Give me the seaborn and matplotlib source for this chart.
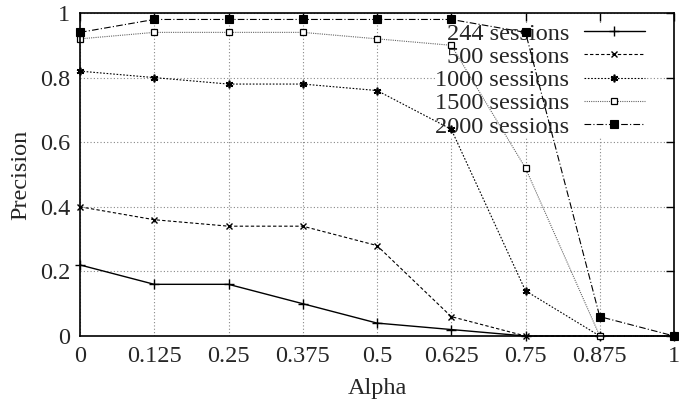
import matplotlib
matplotlib.use("Agg")
import matplotlib.pyplot as plt
import seaborn as sns
import pandas as pd

alpha = [0, 0.125, 0.25, 0.375, 0.5, 0.625, 0.75, 0.875, 1]
s244 = [0.22, 0.16, 0.16, 0.10, 0.04, 0.02, 0.0, 0.0, 0.0]
s500 = [0.40, 0.36, 0.34, 0.34, 0.28, 0.06, 0.0, 0.0, 0.0]
s1000 = [0.82, 0.80, 0.78, 0.78, 0.76, 0.64, 0.14, 0.0, 0.0]
s1500 = [0.92, 0.94, 0.94, 0.94, 0.92, 0.90, 0.52, 0.0, 0.0]
s2000 = [0.94, 0.98, 0.98, 0.98, 0.98, 0.98, 0.94, 0.06, 0.0]
labels = ["244 sessions", "500 sessions", "1000 sessions", "1500 sessions", "2000 sessions"]
series = [s244, s500, s1000, s1500, s2000]
xticks = ["0", "0.125", "0.25", "0.375", "0.5", "0.625", "0.75", "0.875", "1"]
yticks = ["0", "0.2", "0.4", "0.6", "0.8", "1"]

sns.set_style("white")
plt.rcParams['font.family'] = ['Liberation Serif', 'DejaVu Serif']

FS = 17.5
fig = plt.figure(figsize=(6.79, 4.0), dpi=100)
ax = fig.add_axes([80/679, 64/400, 594/679, 323/400])

styles = [
    dict(linestyle='-', marker='+', color='black', mfc='black', mec='black', ms=7, mew=1.0, lw=1.0),
    dict(linestyle=(0, (3, 2)), marker='x', color='black', mfc='black', mec='black', ms=4, mew=1.0, lw=0.8),
    dict(linestyle=(0, (1.5, 1.5)), marker=(6, 2, 0), color='black', mfc='black', mec='black', ms=5.5, mew=1.2, lw=0.8),
    dict(linestyle=(0, (1, 1)), marker='s', color='#666666', mfc='white', mec='black', ms=4.5, mew=0.9, lw=0.8),
    dict(linestyle=(0, (6, 2, 1, 2)), marker='s', color='black', mfc='black', mec='black', ms=5.5, mew=0.8, lw=0.8),
]

for lab, vals, st in zip(labels, series, styles):
    df = pd.DataFrame({"Alpha": alpha, "Precision": vals})
    sns.lineplot(data=df, x="Alpha", y="Precision", ax=ax, label=lab, clip_on=False,
                 zorder=3, **st)

ax.set_xlim(0, 1)
ax.set_ylim(0, 1)
ax.set_xticks(alpha)
ax.set_xticklabels(xticks)
ax.set_yticks([0, 0.2, 0.4, 0.6, 0.8, 1.0])
ax.set_yticklabels(yticks)
ax.set_axisbelow(True)
ax.grid(True, linestyle=(0, (1, 2)), color='#888888', lw=0.8, zorder=0.5)
ax.tick_params(direction='in', length=6, width=1, top=True, right=True,
               labelsize=FS, pad=7, color='black')
for sp in ax.spines.values():
    sp.set_color('black')
    sp.set_linewidth(1.2)
    sp.set_zorder(4)
ax.set_xlabel("Alpha", fontsize=FS, labelpad=8)
ax.set_ylabel("Precision", fontsize=FS, labelpad=6)

leg = ax.legend(loc='upper right', bbox_to_anchor=((646-80)/594 - 0.002, 0.97), frameon=True, fontsize=FS,
                markerfirst=False, handlelength=2.5, labelspacing=0.05,
                borderpad=0.0, handletextpad=0.6, fancybox=False, borderaxespad=0.0)
leg.get_frame().set_edgecolor('none')
leg.get_frame().set_facecolor('white')
leg.get_frame().set_alpha(1.0)
leg.set_zorder(1)
for t in leg.get_texts():
    t.set_ha('right')

fig.savefig("out.png", dpi=100)
